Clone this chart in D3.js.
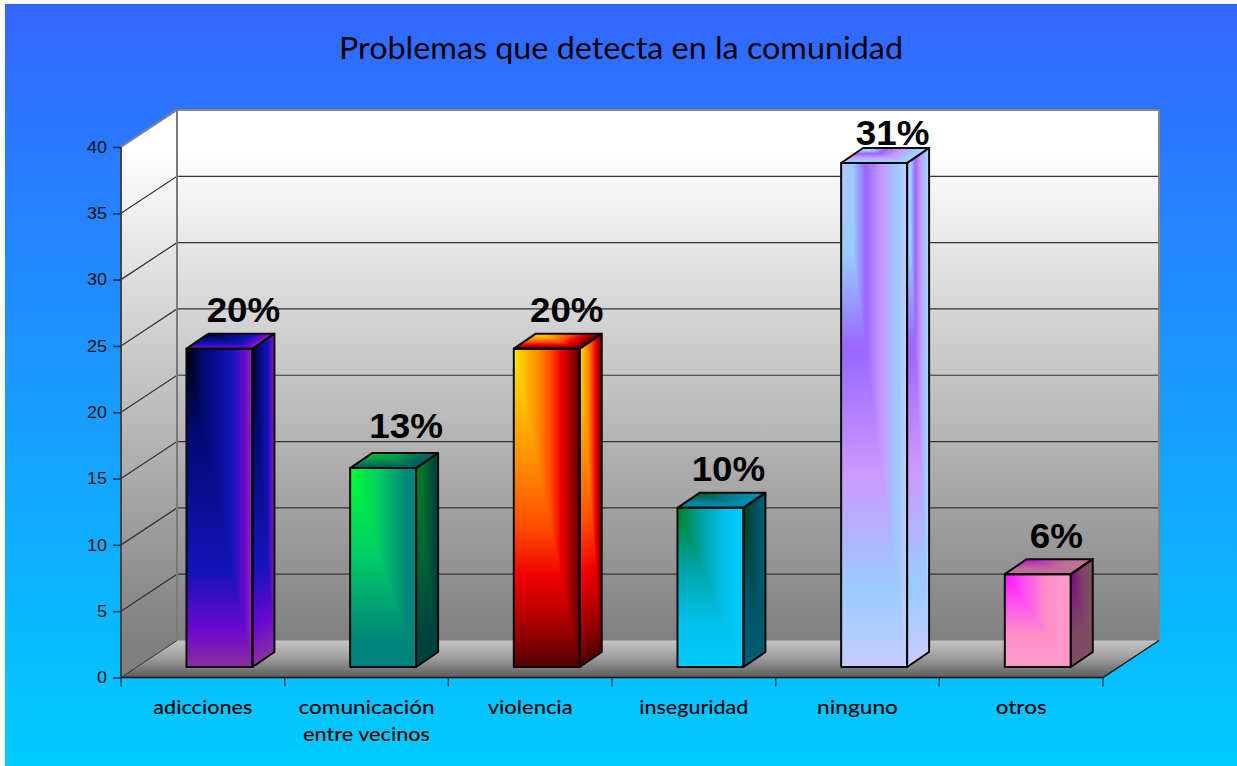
<!DOCTYPE html>
<html><head><meta charset="utf-8">
<script src="https://cdn.jsdelivr.net/npm/d3@7/dist/d3.min.js"></script>
<style>html,body{margin:0;padding:0;background:#fff}svg{display:block}</style>
</head><body><svg id="c" width="1237" height="766"></svg>
<script>
const title = "Problemas que detecta en la comunidad";
const categories = [["adicciones"],["comunicación","entre vecinos"],["violencia"],["inseguridad"],["ninguno"],["otros"]];
const values = [24,15,24,12,38,7];
const percentLabels = ["20%","13%","20%","10%","31%","6%"];
const yTicks = [0,5,10,15,20,25,30,35,40];

// Colour ramps of the corner-shaded bars, and how dark each bar's side and top faces are
const ramps = [
 [[0,"#000008"],[.25,"#000a70"],[.7,"#1414b8"],[.88,"#6a08d0"],[1,"#8a30a0"]],
 [[0,"#00ff33"],[.45,"#00cc66"],[.85,"#008878"],[1,"#008080"]],
 [[0,"#ffee00"],[.12,"#ffc800"],[.35,"#ff9000"],[.55,"#ff5000"],[.72,"#f00000"],[.88,"#a00000"],[1,"#500000"]],
 [[0,"#008020"],[.35,"#00a0a0"],[.7,"#00c0e8"],[1,"#00ccff"]],
 [[0,"#b8c4ff"],[.18,"#99ccff"],[.37,"#9966ff"],[.62,"#cc99ff"],[.85,"#99ccff"],[1,"#c8ccff"]],
 [[0,"#ff10ff"],[.3,"#ff50f0"],[.65,"#ff90c8"],[1,"#ff99cc"]]
];
const sideShade = [0,.5,0,.55,0,.5];
const topShade = [0,.25,0,.3,0,.25];

// Hand adjustments of the value labels relative to their bars
const labelNudgeX = [24,23,20,18,18.5,18.5];
const labelNudgeY = [-1,-4,-1,-0.5,8,0];

const W=1237,H=766;
const plot={x0:121,x1:1103,y0:677.5,y1:147};
const depth={dx:56,dy:37};
const barDepth={dx:22,dy:15};
const frontInset={dx:16,dy:10.5};

const svg=d3.select("#c");
const defs=svg.append("defs");
const x=d3.scaleBand().domain(d3.range(categories.length)).range([plot.x0,plot.x1]);
const y=d3.scaleLinear().domain([0,40]).range([plot.y0,plot.y1]);
const FONT_LABEL="'Liberation Sans',Arial,sans-serif", FONT_TEXT="Lato,'Open Sans',sans-serif";

function grad(id,stops,x2,y2){
  const g=defs.append("linearGradient").attr("id",id).attr("x1",0).attr("y1",0).attr("x2",x2).attr("y2",y2);
  stops.forEach(([o,c])=>g.append("stop").attr("offset",o).attr("stop-color",c));
}
grad("bg",[[0,"#3366ff"],[1,"#00ccff"]],0,1);
defs.append("linearGradient").attr("id","wall").attr("gradientUnits","userSpaceOnUse")
  .attr("x1",0).attr("x2",0).attr("y1",plot.y1-depth.dy+40).attr("y2",plot.y0-depth.dy)
  .call(g=>{g.append("stop").attr("offset",0).attr("stop-color","#ffffff");
            g.append("stop").attr("offset",1).attr("stop-color","#808080");});
grad("floor",[[0,"#c4c4c4"],[.45,"#a0a0a0"],[1,"#5c5c5c"]],0,1);
ramps.forEach((r,i)=>{grad("h"+i,r,1,0);grad("v"+i,r,0,1);});

// background
svg.append("rect").attr("x",5).attr("y",4).attr("width",W-5).attr("height",H-4).attr("fill","url(#bg)");

const poly=(sel,pts)=>sel.append("path").attr("d",d3.line()(pts)+"Z");
const X0=plot.x0,X1=plot.x1,Y0=plot.y0,Yt=plot.y1,D=depth;

// walls and floor (the back wall runs one pixel under the floor so no seam shows)
poly(svg,[[X0,Y0],[X0+D.dx+1,Y0-D.dy],[X0+D.dx+1,Yt-D.dy],[X0,Yt]]).attr("fill","url(#wall)");
poly(svg,[[X0+D.dx,Y0-D.dy+1],[X1+D.dx,Y0-D.dy+1],[X1+D.dx,Yt-D.dy],[X0+D.dx,Yt-D.dy]]).attr("fill","url(#wall)");
poly(svg,[[X0,Y0],[X1,Y0],[X1+D.dx,Y0-D.dy],[X0+D.dx,Y0-D.dy]]).attr("fill","url(#floor)");

// gridlines
yTicks.filter(t=>t>0&&t<40).forEach(t=>{
  svg.append("path").attr("fill","none").attr("stroke","#333").attr("stroke-width",1.2)
    .attr("d",d3.line()([[X0,y(t)],[X0+D.dx,y(t)-D.dy],[X1+D.dx,y(t)-D.dy]]));
});
svg.append("path").attr("fill","none").attr("stroke","#333").attr("stroke-width",1)
  .attr("d",d3.line()([[X0,Y0],[X0+D.dx,Y0-D.dy]]));
// frame
svg.append("path").attr("fill","none").attr("stroke","#868686").attr("stroke-width",2)
  .attr("d",d3.line()([[X0,Yt],[X0+D.dx,Yt-D.dy],[X1+D.dx,Yt-D.dy],[X1+D.dx,Y0-D.dy]]));
svg.append("path").attr("fill","none").attr("stroke","#7a7a7a").attr("stroke-width",2)
  .attr("d",d3.line()([[X0+D.dx,Yt-D.dy],[X0+D.dx,Y0-D.dy]]));
svg.append("path").attr("fill","none").attr("stroke","#444").attr("stroke-width",2)
  .attr("d",d3.line()([[X0,Yt],[X0,Y0]]));
svg.append("path").attr("fill","none").attr("stroke","#111").attr("stroke-width",1.3)
  .attr("d",d3.line()([[X0,Y0],[X1,Y0],[X1+D.dx,Y0-D.dy]]));

// axes
const yAxis=svg.append("g").attr("transform",`translate(${X0},0)`)
  .call(d3.axisLeft(y).tickValues(yTicks).tickSize(8).tickPadding(6));
yAxis.select(".domain").remove();
yAxis.selectAll(".tick line").attr("stroke","#0c2f55").attr("stroke-width",1.6);
yAxis.selectAll("text").attr("font-family",FONT_LABEL).attr("font-size",16).attr("fill","#111")
  .each(function(){ this.setAttribute("textLength",(this.getComputedTextLength()*1.12).toFixed(1));
                    this.setAttribute("lengthAdjust","spacingAndGlyphs"); });
const xTickPositions=d3.range(categories.length+1).map(i=>i<categories.length?x(i):x(i-1)+x.bandwidth());
svg.append("g").selectAll("line").data(xTickPositions).join("line")
  .attr("x1",d=>d).attr("x2",d=>d).attr("y1",Y0).attr("y2",Y0+9)
  .attr("stroke","#0c3f5f").attr("stroke-width",1.4);

// category labels
const catWidths=[[99],[136,127],[85],[109],[81],[51]];
categories.forEach((lines,i)=>lines.forEach((s,j)=>{
  svg.append("text").text(s).attr("x",x(i)+x.bandwidth()/2).attr("y",Y0+36.5+j*27)
    .attr("text-anchor","middle").attr("font-family",FONT_TEXT).attr("font-size",19).attr("font-weight",500).attr("fill","#000")
    .attr("textLength",catWidths[i][j]).attr("lengthAdjust","spacingAndGlyphs");
}));

// bars
const barW=x.bandwidth()*0.403;
const bars=svg.append("g");
function face(i,ox,oy,ax,ay,bx,by,shade){
  // unit square mapped on a parallelogram so that the corner shading follows the face
  const g=bars.append("g").attr("transform",`matrix(${ax},${ay},${bx},${by},${ox},${oy})`);
  g.append("rect").attr("width",1).attr("height",1).attr("fill",`url(#v${i})`);
  poly(g,[[0,0],[1,0],[1,1]]).attr("fill",`url(#h${i})`);
  if(shade>0) g.append("rect").attr("width",1).attr("height",1).attr("fill","#000").attr("opacity",shade);
}
values.forEach((v,i)=>{
  const l=x(i)+x.bandwidth()*0.4, b=y(0)-frontInset.dy, t=y(v)-frontInset.dy, r=l+barW, d=barDepth;
  face(i,l,t,barW,0,0,b-t,0);
  face(i,r,t,d.dx,-d.dy,0,b-t,sideShade[i]);
  face(i,l+d.dx,t-d.dy,barW,0,-d.dx,d.dy,topShade[i]);
  const o=bars.append("g").attr("fill","none").attr("stroke","#0a0a0a").attr("stroke-width",2).attr("stroke-linejoin","round");
  poly(o,[[l,t],[r,t],[r,b],[l,b]]);
  poly(o,[[r,t],[r+d.dx,t-d.dy],[r+d.dx,b-d.dy],[r,b]]);
  poly(o,[[l,t],[l+d.dx,t-d.dy],[r+d.dx,t-d.dy],[r,t]]);
});

// value labels
svg.append("g").selectAll("text").data(values).join("text")
  .text((d,i)=>percentLabels[i])
  .attr("x",(d,i)=>x(i)+x.bandwidth()*0.4+barW/2+labelNudgeX[i])
  .attr("y",(d,i)=>y(d)-10.5-26+labelNudgeY[i])
  .attr("text-anchor","middle").attr("font-family",FONT_LABEL).attr("font-weight",700).attr("font-size",35).attr("fill","#000")
  .each(function(){ this.setAttribute("textLength",(this.getComputedTextLength()*1.05).toFixed(1));
                    this.setAttribute("lengthAdjust","spacingAndGlyphs"); });

// title
svg.append("text").text(title).attr("x",621).attr("y",59).attr("text-anchor","middle")
  .attr("font-family",FONT_TEXT).attr("font-size",31).attr("fill","#000")
  .attr("textLength",564).attr("lengthAdjust","spacingAndGlyphs");
</script></body></html>
